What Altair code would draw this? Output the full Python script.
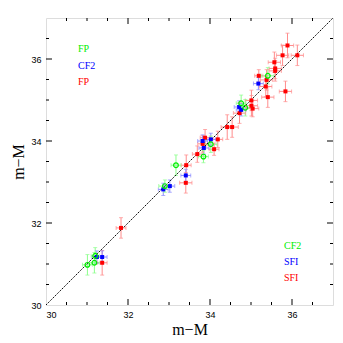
import altair as alt
import pandas as pd

# Red (filled squares)
r_x = [35.89, 35.77, 36.13, 35.57, 35.59, 35.59, 35.38, 35.19, 35.36, 35.84, 35.41, 35.01, 35.01, 35.04, 34.72, 34.42, 34.54, 33.88, 34.19, 33.82, 34.10, 33.69, 33.42, 33.41, 31.83, 31.37]
r_y = [36.33, 36.09, 36.09, 35.92, 35.77, 35.71, 35.49, 35.59, 35.33, 35.21, 35.07, 34.99, 34.86, 34.79, 34.68, 34.34, 34.34, 34.08, 34.04, 33.93, 33.80, 33.68, 33.41, 32.98, 31.88, 31.03]
r_ex = [0.15, 0.15, 0.15, 0.15, 0.15, 0.15, 0.15, 0.10, 0.15, 0.15, 0.15, 0.15, 0.15, 0.15, 0.15, 0.15, 0.15, 0.12, 0.12, 0.12, 0.12, 0.12, 0.12, 0.15, 0.12, 0.12]
r_ey = [0.30, 0.25, 0.25, 0.25, 0.25, 0.25, 0.25, 0.15, 0.25, 0.25, 0.25, 0.25, 0.25, 0.20, 0.25, 0.30, 0.25, 0.20, 0.20, 0.20, 0.15, 0.20, 0.25, 0.25, 0.25, 0.30]

# Blue (filled squares)
b_x = [35.18, 34.71, 34.76, 34.02, 33.82, 33.85, 33.41, 33.02, 32.86, 31.24, 31.37]
b_y = [35.40, 34.83, 34.76, 34.04, 34.00, 33.83, 33.16, 32.90, 32.82, 31.17, 31.17]
b_ex = [0.12, 0.12, 0.12, 0.12, 0.12, 0.12, 0.12, 0.12, 0.12, 0.12, 0.12]
b_ey = [0.15, 0.15, 0.15, 0.15, 0.15, 0.15, 0.15, 0.15, 0.15, 0.15, 0.15]

# Green (open circles)
g_x = [35.41, 34.86, 34.76, 34.02, 33.84, 33.17, 32.90, 31.18, 31.01, 31.20]
g_y = [35.59, 34.81, 34.92, 33.92, 33.62, 33.41, 32.90, 31.03, 30.98, 31.20]
g_ex = [0.15, 0.15, 0.12, 0.15, 0.12, 0.12, 0.15, 0.12, 0.12, 0.10]
g_ey = [0.20, 0.20, 0.20, 0.20, 0.15, 0.25, 0.15, 0.25, 0.25, 0.20]

major_ticks = [32, 34, 36]
minor_ticks = [30.5, 31, 31.5, 32.5, 33, 33.5, 34.5, 35, 35.5, 36.5]
axis_labels = [30, 32, 34, 36]
diag = [30, 37]

legend_tl = ["FP", "CF2", "FP"]
legend_br = ["CF2", "SFI", "SFI"]

W, H = 287, 287
RED, BLUE, GREEN = "#ff0000", "#0000ff", "#00ee00"
LRED, LBLUE, LGREEN = "#ff8c8c", "#8c8cff", "#8cff8c"

def mk(xs, ys, exs, eys, s):
    d = pd.DataFrame({"x": xs, "y": ys, "ex": exs, "ey": eys})
    d["xlo"] = d.x - d.ex
    d["xhi"] = d.x + d.ex
    d["ylo"] = d.y - d.ey
    d["yhi"] = d.y + d.ey
    d["s"] = s
    return d

df = pd.concat([mk(r_x, r_y, r_ex, r_ey, "r"), mk(b_x, b_y, b_ex, b_ey, "b"),
                mk(g_x, g_y, g_ex, g_ey, "g")], ignore_index=True)

xs = alt.Scale(domain=[30, 37], nice=False, zero=False)
ys = alt.Scale(domain=[30, 37], nice=False, zero=False)
lab = dict(labelFont="Liberation Sans", labelFontSize=9, labelColor="black",
           titleFont="Liberation Serif", titleFontSize=16, titleFontWeight="normal",
           titleColor="black", ticks=False, domain=False, grid=False)
xax = alt.Axis(values=axis_labels, title="m\u2212M", labelPadding=5, titlePadding=2, **lab)
yax = alt.Axis(values=axis_labels, title="m\u2212M", labelPadding=5, titlePadding=4, **lab)

base = alt.Chart(df)
ecol = alt.Color("s:N", scale=alt.Scale(domain=["r", "b", "g"], range=[LRED, LBLUE, LGREEN]), legend=None)

hbar = base.mark_rule(strokeWidth=1).encode(
    x=alt.X("xlo:Q", scale=xs, axis=xax), x2="xhi:Q", y=alt.Y("y:Q", scale=ys, axis=yax), color=ecol)
vbar = base.mark_rule(strokeWidth=1).encode(x="x:Q", y="ylo:Q", y2="yhi:Q", color=ecol)
capl = base.mark_tick(orient="vertical", size=4, thickness=1).encode(x="xlo:Q", y="y:Q", color=ecol)
capr = base.mark_tick(orient="vertical", size=4, thickness=1).encode(x="xhi:Q", y="y:Q", color=ecol)
capb = base.mark_tick(orient="horizontal", size=4, thickness=1).encode(x="x:Q", y="ylo:Q", color=ecol)
capt = base.mark_tick(orient="horizontal", size=4, thickness=1).encode(x="x:Q", y="yhi:Q", color=ecol)

red_pts = base.transform_filter("datum.s == 'r'").mark_square(size=16, color=RED, opacity=1).encode(x="x:Q", y="y:Q")
blue_pts = base.transform_filter("datum.s == 'b'").mark_square(size=16, color=BLUE, opacity=1).encode(x="x:Q", y="y:Q")
green_pts = base.transform_filter("datum.s == 'g'").mark_point(shape="circle", size=22, color=GREEN, filled=False, strokeWidth=1.2, opacity=1).encode(x="x:Q", y="y:Q")

line = alt.Chart(pd.DataFrame({"v": diag})).mark_line(color="black", strokeWidth=1, strokeDash=[1.5, 1]).encode(
    x=alt.X("v:Q", scale=xs), y=alt.Y("v:Q", scale=ys))

def ticks(vals, L):
    t = alt.Chart(pd.DataFrame({"v": vals}))
    return [
        t.mark_rule(color="black").encode(x=alt.X("v:Q", scale=xs), y=alt.value(H), y2=alt.value(H - L)),
        t.mark_rule(color="black").encode(x=alt.X("v:Q", scale=xs), y=alt.value(0), y2=alt.value(L)),
        t.mark_rule(color="black").encode(y=alt.Y("v:Q", scale=ys), x=alt.value(0), x2=alt.value(L)),
        t.mark_rule(color="black").encode(y=alt.Y("v:Q", scale=ys), x=alt.value(W), x2=alt.value(W - L)),
    ]

texts = []
tl_cols = [GREEN, BLUE, RED]
for i, (t, c) in enumerate(zip(legend_tl, tl_cols)):
    texts.append(alt.Chart(pd.DataFrame({"t": [t]})).mark_text(
        align="left", baseline="middle", font="Liberation Serif", fontSize=10, color=c).encode(
        text="t:N", x=alt.value(32), y=alt.value(31 + 16.5 * i)))
for i, (t, c) in enumerate(zip(legend_br, tl_cols)):
    texts.append(alt.Chart(pd.DataFrame({"t": [t]})).mark_text(
        align="left", baseline="middle", font="Liberation Serif", fontSize=10, color=c).encode(
        text="t:N", x=alt.value(238), y=alt.value(228 + 16 * i)))

chart = alt.layer(
    hbar, vbar, capl, capr, capb, capt, line, red_pts, blue_pts, green_pts,
    *ticks(major_ticks, 6), *ticks(minor_ticks, 3), *texts
).properties(
    width=W, height=H,
    autosize=alt.AutoSizeParams(type="none"),
    padding={"left": 38, "top": 10, "right": 2, "bottom": 38},
).configure_view(stroke="black", strokeWidth=1).configure(background="white")

chart.save("out.html", embed_options={"renderer": "svg", "actions": False})
